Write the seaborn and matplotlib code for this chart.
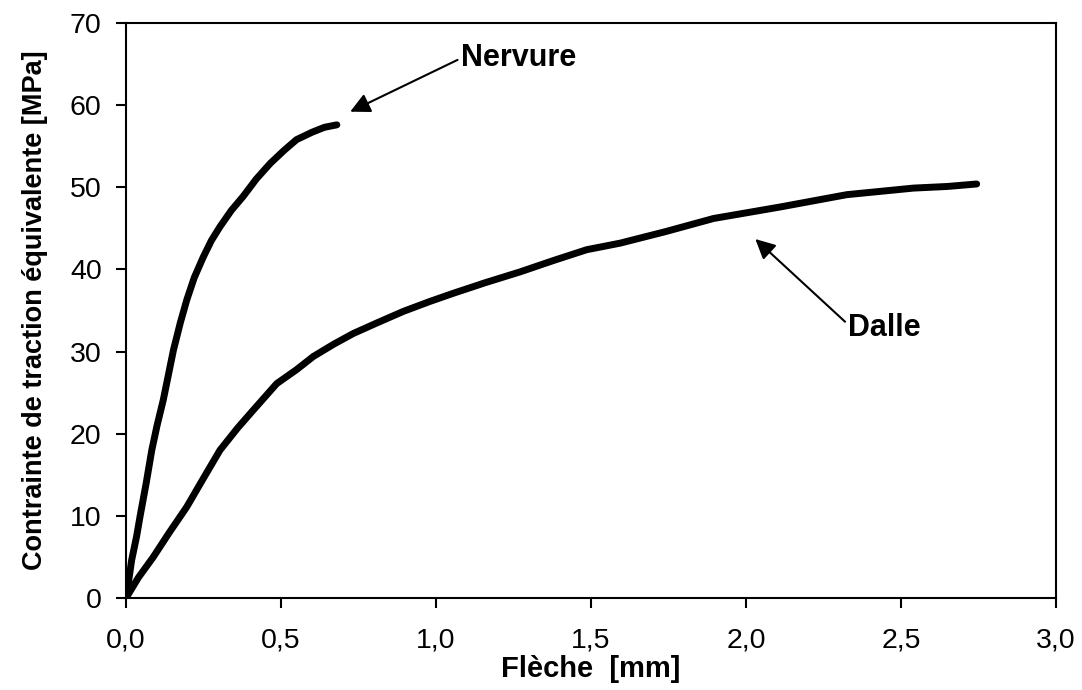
import matplotlib
matplotlib.use("Agg")
import matplotlib.pyplot as plt
import seaborn as sns
import pandas as pd

# Data
nervure_x = [0.0, 0.01, 0.018, 0.034, 0.045, 0.065, 0.083, 0.10, 0.12, 0.153, 0.175, 0.196, 0.22, 0.249, 0.275, 0.303, 0.34, 0.378, 0.42, 0.465, 0.51, 0.55, 0.60, 0.64, 0.68]
nervure_y = [0.0, 2.5, 4.6, 7.5, 9.9, 14.0, 18.0, 21.0, 24.1, 30.2, 33.5, 36.3, 39.0, 41.5, 43.5, 45.2, 47.2, 48.9, 51.0, 52.9, 54.5, 55.8, 56.7, 57.3, 57.6]

dalle_x = [0.0, 0.04, 0.088, 0.14, 0.196, 0.25, 0.303, 0.36, 0.411, 0.486, 0.55, 0.604, 0.67, 0.733, 0.81, 0.895, 0.98, 1.056, 1.16, 1.271, 1.38, 1.486, 1.594, 1.74, 1.895, 2.11, 2.325, 2.54, 2.65, 2.744]
dalle_y = [0.0, 2.5, 5.0, 8.0, 11.1, 14.6, 18.0, 20.7, 22.9, 26.1, 27.8, 29.4, 30.9, 32.2, 33.5, 34.9, 36.1, 37.1, 38.4, 39.7, 41.1, 42.4, 43.2, 44.6, 46.2, 47.6, 49.1, 49.9, 50.1, 50.4]

x_ticks = [0.0, 0.5, 1.0, 1.5, 2.0, 2.5, 3.0]
x_tick_labels = ["0,0", "0,5", "1,0", "1,5", "2,0", "2,5", "3,0"]
y_ticks = [0, 10, 20, 30, 40, 50, 60, 70]

df = pd.concat([
    pd.DataFrame({"x": nervure_x, "y": nervure_y, "serie": "Nervure"}),
    pd.DataFrame({"x": dalle_x, "y": dalle_y, "serie": "Dalle"}),
])

sns.set_style("white")
plt.rcParams["font.family"] = ["Liberation Sans", "DejaVu Sans"]
plt.rcParams["text.color"] = "black"
plt.rcParams["axes.labelcolor"] = "black"

fig = plt.figure(figsize=(10.82, 6.90), dpi=100)
ax = fig.add_axes([0.1165, 0.1333, 0.8595, 0.8334])

sns.lineplot(data=df, x="x", y="y", hue="serie", palette={"Nervure": "black", "Dalle": "black"},
             sort=False, estimator=None, lw=5, legend=False, ax=ax,
             solid_capstyle="round", solid_joinstyle="round")

ax.set_xlim(0, 3.0)
ax.set_ylim(0, 70)
ax.set_xticks(x_ticks)
ax.set_xticklabels(x_tick_labels)
ax.set_yticks(y_ticks)
ax.tick_params(axis="both", direction="out", length=7.5, width=1.5, labelsize=20.5,
               bottom=True, left=True, color="black", labelcolor="black")
ax.tick_params(axis="x", pad=14)
ax.tick_params(axis="y", pad=10)
for sp in ax.spines.values():
    sp.set_visible(True)
    sp.set_color("black")
    sp.set_linewidth(1.5)

ax.set_xlabel("Flèche  [mm]", fontsize=21, fontweight="bold", labelpad=1)
ax.set_ylabel("Contrainte de traction équivalente [MPa]", fontsize=19.5, fontweight="bold", labelpad=16)

arrow = dict(arrowstyle="-|>", color="black", lw=1.5, mutation_scale=30, shrinkA=0, shrinkB=0)
ax.annotate("Nervure", xy=(0.723, 59.2), xytext=(1.08, 65.7), fontsize=22, fontweight="bold",
            ha="left", va="center", arrowprops=dict(arrow, relpos=(0, 0.5)))
ax.annotate("Dalle", xy=(2.03, 43.7), xytext=(2.33, 32.9), fontsize=22, fontweight="bold",
            ha="left", va="center", arrowprops=dict(arrow, relpos=(0, 0.6)))

fig.savefig("out.png", dpi=100, facecolor="white")
